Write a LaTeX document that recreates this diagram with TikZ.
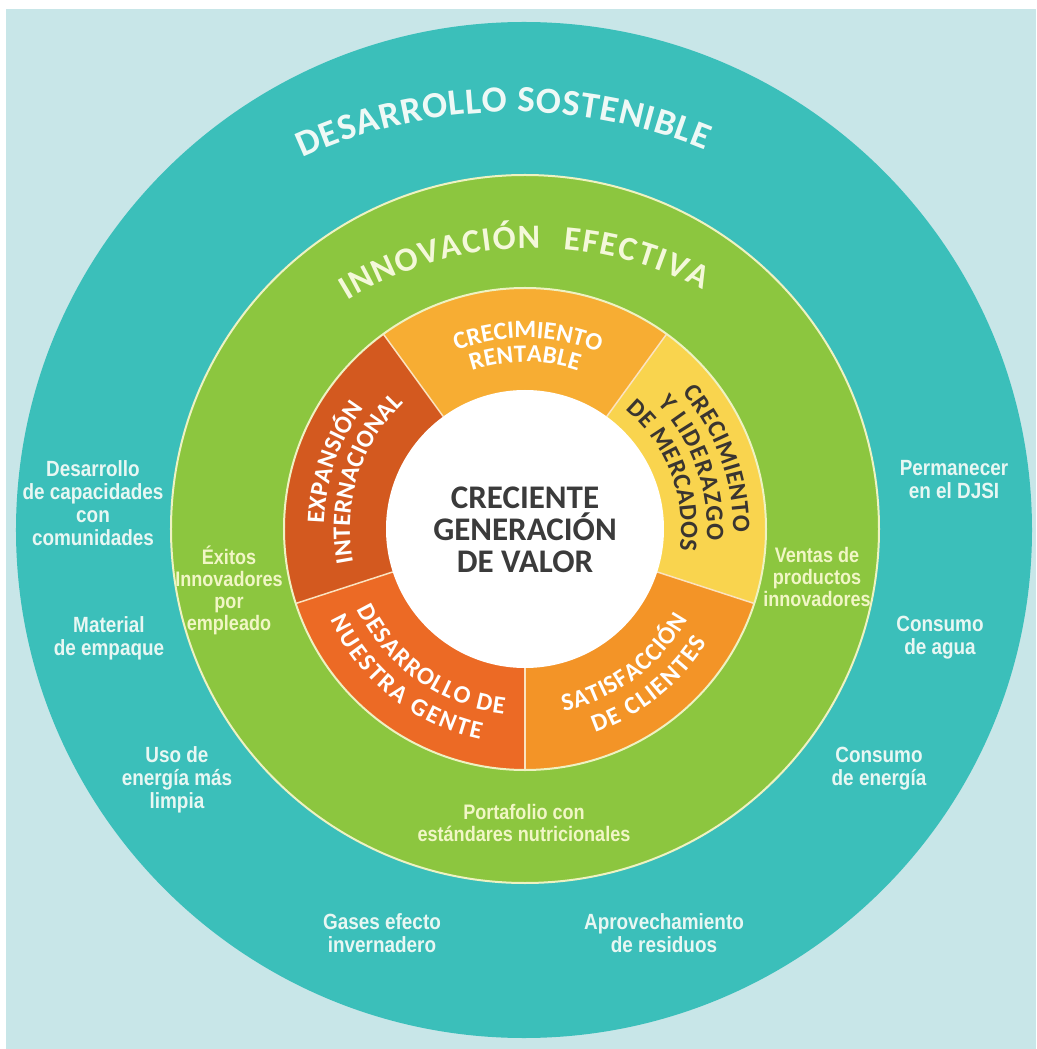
\documentclass[tikz,border=0pt]{standalone}
\usepackage{fontspec}
\usepackage{tikz}
\usetikzlibrary{decorations.text}
\setmainfont{Carlito}
\newfontfamily\condfont[FakeStretch=0.86]{Liberation Sans}
\definecolor{bgcyan}{HTML}{C8E6E8}
\definecolor{ringteal}{HTML}{3BBFBA}
\definecolor{ringgreen}{HTML}{8CC63F}
\definecolor{segtop}{HTML}{F7AD33}
\definecolor{segleft}{HTML}{D3591F}
\definecolor{segbotleft}{HTML}{EC6A25}
\definecolor{segbotright}{HTML}{F39427}
\definecolor{segright}{HTML}{F9D44E}
\definecolor{centergray}{HTML}{3B3B3B}
\definecolor{darkseg}{HTML}{3A3530}
\definecolor{rimline}{HTML}{EEF2C2}
\definecolor{segline}{HTML}{FBE3C0}
\definecolor{lblwhite}{HTML}{E8F7F3}
\definecolor{lblyellow}{HTML}{F1F6C6}
\definecolor{titlewhite}{HTML}{EEF9F6}
\definecolor{titleyellow}{HTML}{F4F8DA}
\newcommand{\sostfnt}{\fontsize{37}{37}\selectfont\bfseries}
\newcommand{\innovfnt}{\fontsize{34}{34}\selectfont\bfseries}
\newcommand{\segfnt}{\fontsize{25}{25}\selectfont\bfseries}

\begin{document}
\begin{tikzpicture}[x=1pt,y=1pt,
	fittext/.style={decorate,decoration={text along path,text align={fit to path},text color=#1}},
	outerlabel/.style={align=center,inner sep=0pt,text=lblwhite,font=\condfont\bfseries\fontsize{22}{23}\selectfont},
	innerlabel/.style={align=center,inner sep=0pt,text=lblyellow,font=\condfont\bfseries\fontsize{21}{22}\selectfont}]
			\fill[white] (-525,-520) rectangle (511,529);
			\useasboundingbox (-525,-520) rectangle (511,529);
			\fill[bgcyan] (-519,-520) rectangle (511,520);
			\fill[ringteal] (-1,-1) circle (508);
			\fill[ringgreen] (0,0) circle (354);
			\draw[rimline,line width=2] (0,0) circle (354);
			\fill[segtop] (0,0) -- (54:241) arc[start angle=54,end angle=126,radius=241] -- cycle;
			\fill[segleft] (0,0) -- (126:241) arc[start angle=126,end angle=198,radius=241] -- cycle;
			\fill[segbotleft] (0,0) -- (198:241) arc[start angle=198,end angle=270,radius=241] -- cycle;
			\fill[segbotright] (0,0) -- (270:241) arc[start angle=270,end angle=342,radius=241] -- cycle;
			\fill[segright] (0,0) -- (342:241) arc[start angle=342,end angle=414,radius=241] -- cycle;
			\draw[segline,line width=1.5] (54:139) -- (54:241);
			\draw[segline,line width=1.5] (126:139) -- (126:241);
			\draw[segline,line width=1.5] (198:139) -- (198:241);
			\draw[segline,line width=1.5] (270:139) -- (270:241);
			\draw[segline,line width=1.5] (342:139) -- (342:241);
			\draw[rimline,line width=2] (0,0) circle (241);
			\fill[white] (0,0) circle (139);

			\path[fittext=titlewhite,decoration={text={|\sostfnt|DESARROLLO SOSTENIBLE}},shift={(-12,-86)}] (114.7:503) arc[start angle=114.7,end angle=67.6,radius=503];
			\path[fittext=titleyellow,decoration={text={|\innovfnt|INNOVACIÓN}},shift={(9,-77)}] (121.4:358) arc[start angle=121.4,end angle=89,radius=358];
			\path[fittext=titleyellow,decoration={text={|\innovfnt|EFECTIVA}},shift={(9,-77)}] (85.3:358) arc[start angle=85.3,end angle=61.9,radius=358];

			\path[fittext=white,decoration={text={|\segfnt|CRECIMIENTO}}] (111:191) arc[start angle=111,end angle=69,radius=191];
			\path[fittext=white,decoration={text={|\segfnt|RENTABLE}}] (108.5:167) arc[start angle=108.5,end angle=71.5,radius=167];
			\path[fittext=white,decoration={text={|\segfnt|EXPANSIÓN}}] (178.5:201) arc[start angle=178.5,end angle=143,radius=201];
			\path[fittext=white,decoration={text={|\segfnt|INTERNACIONAL}}] (191:175) arc[start angle=191,end angle=134,radius=175];
			\path[fittext=white,decoration={text={|\segfnt|DESARROLLO DE}}] (205.5:186) arc[start angle=205.5,end angle=263.5,radius=186];
			\path[fittext=white,decoration={text={|\segfnt|NUESTRA GENTE}}] (205:215) arc[start angle=205,end angle=258,radius=215];
			\path[fittext=white,decoration={text={|\segfnt|SATISFACCIÓN}}] (282:186) arc[start angle=282,end angle=331,radius=186];
			\path[fittext=white,decoration={text={|\segfnt|DE CLIENTES}}] (289:215) arc[start angle=289,end angle=328,radius=215];
			\path[fittext=darkseg,decoration={text={|\segfnt|CRECIMIENTO}}] (41:208) arc[start angle=41,end angle=-1,radius=208];
			\path[fittext=darkseg,decoration={text={|\segfnt|Y LIDERAZGO}}] (43.5:182) arc[start angle=43.5,end angle=-3.5,radius=182];
			\path[fittext=darkseg,decoration={text={|\segfnt|DE MERCADOS}}] (50:156) arc[start angle=50,end angle=-8,radius=156];

			\node[align=center,text=centergray,font=\fontsize{33}{32}\selectfont\bfseries] (valor) at (0,-1) {CRECIENTE\\GENERACIÓN\\DE VALOR};

			\node[innerlabel] (exitos) at (-296,-61) {Éxitos\\Innovadores\\por\\empleado};
			\node[innerlabel] (ventas) at (292,-48) {Ventas de\\productos\\innovadores};
			\node[innerlabel] (portafolio) at (-1,-294) {Portafolio con\\estándares nutricionales};

			\node[outerlabel] (capacidades) at (-432,26) {Desarrollo\\de capacidades\\con\\comunidades};
			\node[outerlabel] (empaque) at (-416,-109) {Material\\de empaque};
			\node[outerlabel] (limpia) at (-348,-251) {Uso de\\energía más\\limpia};
			\node[outerlabel] (gases) at (-143,-404) {Gases efecto\\invernadero};
			\node[outerlabel] (residuos) at (139,-404) {Aprovechamiento\\de residuos};
			\node[outerlabel] (energia) at (354,-240) {Consumo\\de energía};
			\node[outerlabel] (agua) at (415,-109) {Consumo\\de agua};
			\node[outerlabel] (djsi) at (429,49) {Permanecer\\en el DJSI};
		\end{tikzpicture}
\end{document}
